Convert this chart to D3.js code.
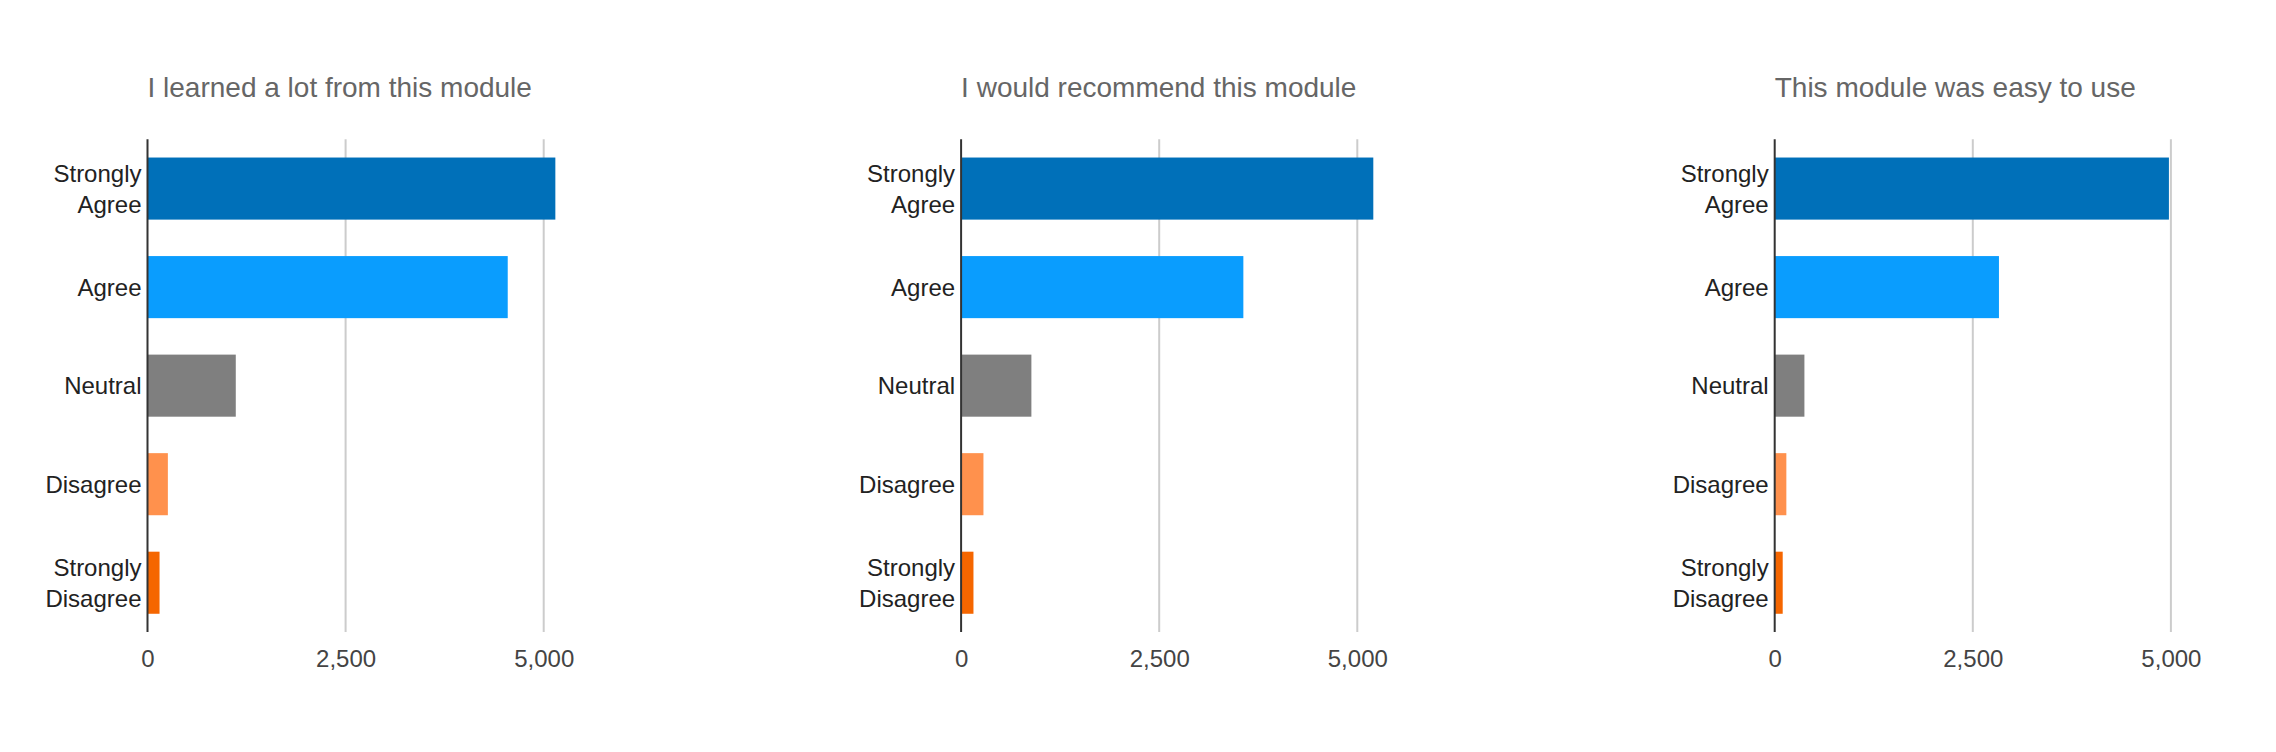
<!DOCTYPE html>
<head>
  <meta charset="utf-8">
  <style>
    html, body { margin: 0; padding: 0; background: #fff; overflow: hidden; }
    svg { display: block; }
    text { font-family: Arial, 'Liberation Sans', sans-serif; }
    .title { fill: #666; font-size: 28px; }
    .cat text { fill: #222; font-size: 24px; }
    .xaxis text { fill: #444; font-size: 24px; }
  </style>
</head>

<body>
  <script src="https://cdn.jsdelivr.net/npm/d3@7"></script>
  <script>
    // survey answers, same order in every panel
    const categories = ["Strongly Agree", "Agree", "Neutral", "Disagree", "Strongly Disagree"];
    const colors = ["#0070b9", "#0a9dfe", "#7f7f7f", "#ff914d", "#f56600"];
    const titles = [
      "I learned a lot from this module",
      "I would recommend this module",
      "This module was easy to use"
    ];
    // counts
    const learned = [5147, 4546, 1114, 257, 152];
    const recommend = [5202, 3562, 887, 282, 156];
    const easy = [4975, 2830, 375, 147, 101];
    const xTicks = [0, 2500, 5000];

    const series = [learned, recommend, easy];

    const width = 2276;
    const height = 752;
    const margin = {top: 139.3, left: 147.5};
    const panelStep = 813.6;
    const innerHeight = 632 - margin.top;
    const innerWidth = 396.2;   // width of 0..5000

    const svg = d3.select("body")
      .append("svg")
      .attr("width", width)
      .attr("height", height);

    const xScale = d3.scaleLinear().domain([0, 5000]).range([0, innerWidth]);
    const yScale = d3.scaleBand()
      .domain(categories)
      .range([0, innerHeight])
      .paddingInner(0.37)
      .paddingOuter(0.185);

    series.forEach((values, p) => {
      const g = svg.append("g")
        .attr("transform", "translate(" + (margin.left + p * panelStep) + "," + margin.top + ")");

      // title
      g.append("text")
        .attr("class", "title")
        .attr("x", 0)
        .attr("y", 97.3 - margin.top)
        .text(titles[p]);

      // gridlines
      g.append("g")
        .selectAll("line")
        .data(xTicks.filter(t => t > 0))
        .enter().append("line")
        .attr("x1", d => xScale(d))
        .attr("x2", d => xScale(d))
        .attr("y1", 0)
        .attr("y2", innerHeight)
        .style("stroke", "#cccccc")
        .style("stroke-width", 2);

      // bars
      g.append("g")
        .selectAll("rect")
        .data(values)
        .enter().append("rect")
        .attr("x", xScale(0))
        .attr("y", (d, i) => yScale(categories[i]))
        .attr("width", d => xScale(d) - xScale(0))
        .attr("height", yScale.bandwidth())
        .style("fill", (d, i) => colors[i]);

      // x axis labels
      const xaxis = d3.axisBottom(xScale)
        .tickValues(xTicks)
        .tickFormat(d3.format(","))
        .tickSize(0)
        .tickPadding(18);
      const xa = g.append("g")
        .attr("class", "xaxis")
        .attr("transform", "translate(0," + innerHeight + ")")
        .call(xaxis);
      xa.select(".domain").remove();
      xa.selectAll("text").attr("dy", "0.71em");

      // category labels, split in two lines when two words
      const cat = g.append("g").attr("class", "cat");
      categories.forEach(c => {
        const words = c.split(" ");
        const cy = yScale(c) + yScale.bandwidth() / 2;
        const t = cat.append("text")
          .attr("text-anchor", "end")
          .attr("x", -6);
        if (words.length === 1) {
          t.attr("y", cy + 8.5).text(c);
        } else {
          t.append("tspan").attr("x", -6).attr("y", cy - 6.5).text(words[0]);
          t.append("tspan").attr("x", -6).attr("y", cy + 24.5).text(words[1]);
        }
      });

      // vertical baseline
      g.append("line")
        .attr("x1", xScale(0))
        .attr("x2", xScale(0))
        .attr("y1", 0)
        .attr("y2", innerHeight)
        .style("stroke", "#333")
        .style("stroke-width", 2);
    });
  </script>
</body>
